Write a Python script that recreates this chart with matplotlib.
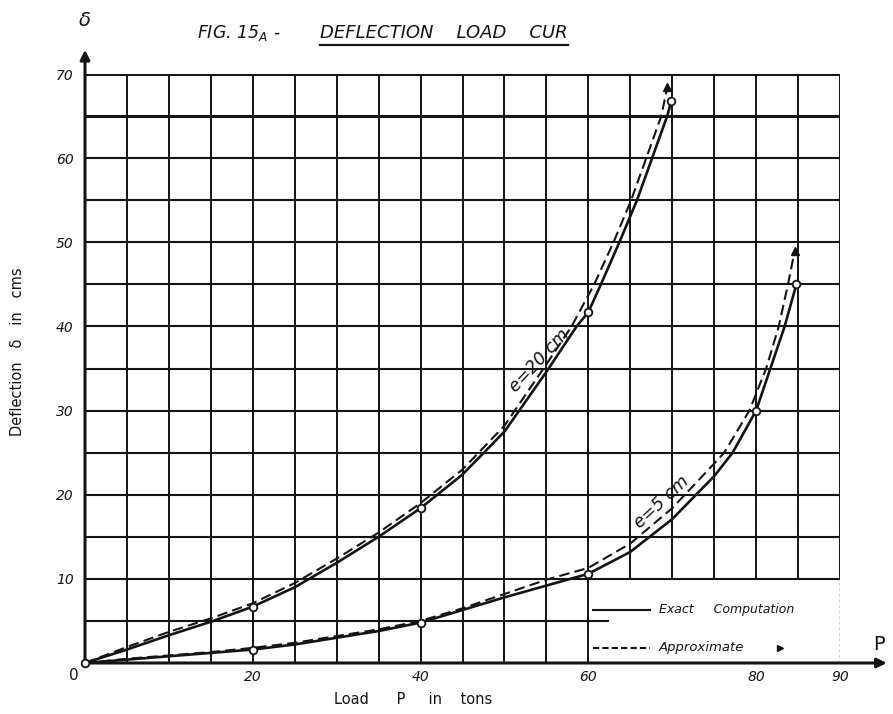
import matplotlib.pyplot as plt
from matplotlib.lines import Line2D

# --- data (load P in tons, deflection in cms) ---
# e = 20 cm, exact computation
p20 = [0, 5, 10, 15, 20, 25, 30, 35, 40, 45, 50, 55, 58.6, 60, 61.5, 63.7, 65.8, 67.6, 69.4, 69.9]
d20 = [0, 1.6, 3.3, 4.9, 6.7, 9.0, 11.9, 15.0, 18.4, 22.4, 27.5, 34.6, 40, 41.7, 45, 50, 55, 60, 65, 66.8]
# e = 20 cm, approximate
p20a = [0, 5, 10, 15, 20, 25, 30, 35, 40, 45, 50, 55, 58.0, 60.7, 63.0, 65.1, 66.9, 68.7, 69.4]
d20a = [0, 1.9, 3.7, 5.3, 7.1, 9.5, 12.4, 15.5, 19.0, 23.0, 28.2, 35.5, 40, 45, 50, 55, 60, 65, 68.4]
# e = 5 cm, exact computation
p5 = [0, 5, 10, 15, 20, 25, 30, 35, 40, 45, 50, 55, 60, 65, 70, 75, 77.2, 80, 81.7, 83.4, 84.8]
d5 = [0, 0.4, 0.8, 1.2, 1.6, 2.2, 3.0, 3.8, 4.8, 6.3, 7.8, 9.2, 10.6, 13.2, 17.1, 22.2, 25, 30, 35, 40, 45]
# e = 5 cm, approximate
p5a = [0, 5, 10, 15, 20, 25, 30, 35, 40, 45, 50, 55, 60, 65, 70, 75, 76.2, 79.2, 81.2, 82.7, 83.8, 84.6]
d5a = [0, 0.5, 0.9, 1.3, 1.8, 2.4, 3.2, 4.0, 5.0, 6.5, 8.2, 9.9, 11.3, 14.2, 18.4, 23.7, 25, 30, 35, 40, 45, 49]

# small circles on the exact curves
p20_pts = [0, 20, 40, 60, 69.9]
d20_pts = [0, 6.7, 18.4, 41.7, 66.8]
p5_pts = [20, 40, 60, 80, 84.8]
d5_pts = [1.6, 4.8, 10.6, 30, 45]

xticks = [20, 40, 60, 80, 90]
yticks = [10, 20, 30, 40, 50, 60, 70]

k = '#141414'
W, H = 893, 714

fig = plt.figure(figsize=(W / 100, H / 100), dpi=100)
fig.patch.set_facecolor('white')
ax = fig.add_axes([85 / W, 51 / H, 755 / W, 589 / H])
ax.set_xlim(0, 90)
ax.set_ylim(0, 70)
for s in ax.spines.values():
    s.set_visible(False)

# grid drawn on the paper (no vertical lines in the legend box)
for x in range(5, 95, 5):
    lo = 10 if x > 60 else 0
    ax.vlines(x, lo, 70, color=k, lw=1.4, zorder=1)
ax.vlines(90, 0, 10, color=k, lw=1.0, linestyles=(0, (2, 2)), zorder=1)
for y in range(10, 75, 5):
    ax.hlines(y, 0, 90, color=k, lw=2.2 if y >= 65 else 1.5, zorder=1)
ax.hlines(5, 0, 62.5, color=k, lw=1.5, zorder=1)

# axes with arrows
ax.annotate('', xy=(95.9, 0), xytext=(0, 0), annotation_clip=False,
            arrowprops=dict(arrowstyle='-|>', lw=2.2, color=k, mutation_scale=14))
ax.annotate('', xy=(0, 73.2), xytext=(0, 0), annotation_clip=False,
            arrowprops=dict(arrowstyle='-|>', lw=2.2, color=k, mutation_scale=14))

# curves
ax.plot(p20, d20, color=k, lw=1.9, zorder=3)
ax.plot(p20a, d20a, color=k, lw=1.5, ls=(0, (5, 2.5)), zorder=3)
ax.plot(p5, d5, color=k, lw=1.9, zorder=3)
ax.plot(p5a, d5a, color=k, lw=1.5, ls=(0, (5, 2.5)), zorder=3)
ax.plot(p20_pts, d20_pts, 'o', ms=5.5, mfc='white', mec=k, mew=1.3, zorder=4, clip_on=False)
ax.plot(p5_pts, d5_pts, 'o', ms=5.5, mfc='white', mec=k, mew=1.3, zorder=4, clip_on=False)
# arrow heads at the ends of the approximate curves
ax.plot(p20a[-1], d20a[-1], marker='^', ms=6, color=k, zorder=4, clip_on=False)
ax.plot(p5a[-1], d5a[-1], marker='^', ms=6, color=k, zorder=4, clip_on=False)

ax.text(55.0, 35.2, 'e=20 cm', rotation=47, ha='center', va='bottom',
        fontsize=12.5, style='italic', color=k, rotation_mode='anchor')
ax.text(69.4, 18.3, 'e=5 cm', rotation=43, ha='center', va='bottom',
        fontsize=12.5, style='italic', color=k, rotation_mode='anchor')

# legend box
ax.plot([60.6, 67.3], [6.3, 6.3], color=k, lw=1.5)
ax.text(68.4, 6.3, 'Exact     Computation', fontsize=9, style='italic', va='center', color=k)
ax.plot([60.6, 67.3], [1.8, 1.8], color=k, lw=1.5, ls=(0, (3, 1.5)))
ax.text(68.4, 1.8, 'Approximate', fontsize=9.5, style='italic', va='center', color=k)
ax.plot(82.8, 1.8, marker='>', ms=4, color=k)

# ticks
ax.set_xticks(xticks)
ax.set_yticks(yticks)
ax.set_xticklabels([str(v) for v in xticks], fontsize=10, style='italic', color=k)
ax.set_yticklabels([str(v) for v in yticks], fontsize=10, style='italic', color=k)
ax.tick_params(axis='x', length=0, pad=5)
ax.tick_params(axis='y', length=0, pad=8)
ax.text(-0.8, -0.6, '0', ha='right', va='top', fontsize=11, color=k)

# axis names
ax.text(94.6, 2.2, 'P', fontsize=14, color=k, ha='center', va='center')
fig.text(85 / W, 1 - 20 / H, 'δ', fontsize=14, color=k, ha='center', va='center',
         style='italic')
fig.text(18 / W, 1 - 352 / H, 'Deflection   δ   in   cms', rotation=90, fontsize=10.5,
         ha='center', va='center', color=k)
fig.text(413 / W, 1 - 700 / H, 'Load      P     in    tons', fontsize=10.5,
         ha='center', va='center', color=k)

# title
fig.text(197 / W, 1 - 38 / H, 'FIG. 15$_{A}$ -', fontsize=12.5, style='italic',
         ha='left', va='baseline', color=k)
t2 = fig.text(320 / W, 1 - 38 / H, 'DEFLECTION    LOAD    CUR', fontsize=13,
              style='italic', ha='left', va='baseline', color=k)
fig.canvas.draw()
bb = t2.get_window_extent()
fig.add_artist(Line2D([bb.x0 / W, bb.x1 / W], [(bb.y0 - 3) / H, (bb.y0 - 3) / H],
                      color=k, lw=1.6))

fig.savefig('out.png', dpi=100, facecolor='white')
